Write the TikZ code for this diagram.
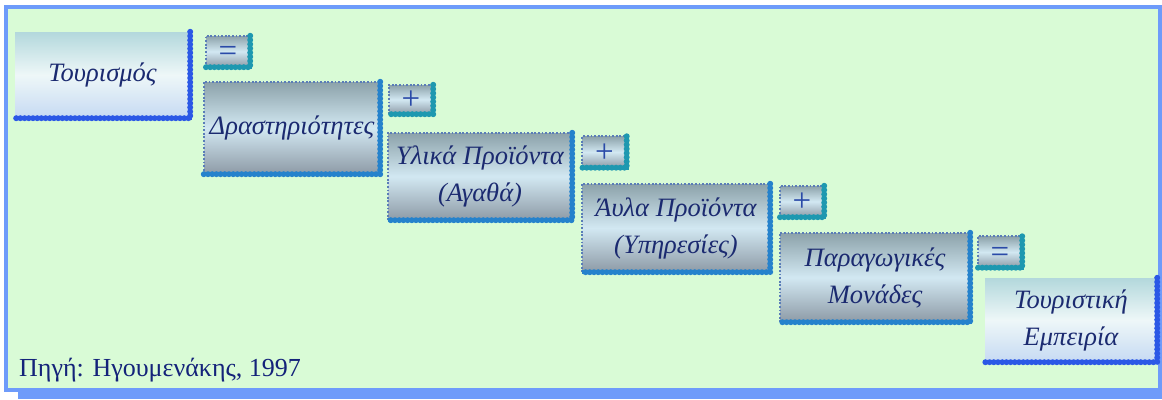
\documentclass[tikz,border=0pt]{standalone}
\usepackage{fontspec}
\setmainfont{Liberation Serif}
\begin{document}
\begin{tikzpicture}[x=1pt,y=-1pt,
  txt/.style={text=navytxt, font=\fontsize{26.5}{37}\selectfont\itshape, align=center, inner sep=0pt},
  endbox/.style={txt, minimum width=#1, top color=endtop, bottom color=endbot, middle color=endmid},
  midbox/.style={txt, minimum width=#1, top color=midtop, bottom color=midbot, middle color=midmid},
  opbox/.style={text=optxt, font=\fontsize{33}{33}\selectfont, inner sep=0pt, minimum width=44pt, minimum height=31pt, text height=20pt, text depth=0pt, top color=midtop, bottom color=midbot, middle color=midmid},
  bigedge/.style={draw=#1, line width=3.8pt, postaction={draw=#1, line width=6pt, dash pattern=on 0pt off 4.2pt, line cap=round}},
  thinedge/.style={draw=thinc, line width=1.8pt, dash pattern=on 1.8pt off 1.8pt}
]
\definecolor{navytxt}{HTML}{1B2A70}
\definecolor{optxt}{HTML}{2A4AA8}
\definecolor{framec}{HTML}{6E9BFA}
\definecolor{bgc}{HTML}{D9FBD6}
\definecolor{endtop}{HTML}{B3D8DC}
\definecolor{endmid}{HTML}{EEF7F8}
\definecolor{endbot}{HTML}{C6DAF3}
\definecolor{midtop}{HTML}{8CA2AA}
\definecolor{midmid}{HTML}{D2E8F2}
\definecolor{midbot}{HTML}{8D9AA6}
\definecolor{blueedge}{HTML}{2B58E6}
\definecolor{tealedge}{HTML}{2582CC}
\definecolor{opedge}{HTML}{1E98B0}
\definecolor{thinc}{HTML}{5A7DB8}
\definecolor{srcc}{HTML}{14237A}

\useasboundingbox (0,0) rectangle (1162,399);
% frame
\fill[bgc] (6,7) rectangle (1160,390);
\fill[framec] (18,389) rectangle (1162,399);
\draw[framec, line width=4pt] (6,7) rectangle (1160,390);

% boxes
\node[endbox=175pt, minimum height=86pt] (tour) at (102.5,75) {Τουρισμός};
\node[opbox] (eq1) at (228,51.5) {=};
\node[midbox=176pt, minimum height=92pt] (drast) at (292,128) {Δραστηριότητες};
\node[opbox, minimum height=29pt] (pl1) at (411,99.5) {+};
\node[midbox=184pt, minimum height=87pt] (ylika) at (480,176.5) {Υλικά Προϊόντα\\(Αγαθά)};
\node[opbox] (pl2) at (604.5,152) {+};
\node[midbox=188pt, minimum height=88pt] (ayla) at (676,228) {Άυλα Προϊόντα\\(Υπηρεσίες)};
\node[opbox] (pl3) at (802,201.5) {+};
\node[midbox=190pt, minimum height=89pt] (parag) at (875,277.5) {Παραγωγικές\\Μονάδες};
\node[opbox] (eq2) at (1000,252) {=};
\node[endbox=172pt, minimum height=84pt] (emp) at (1071,320) {Τουριστική\\Εμπειρία};

% edges
\foreach \n in {drast,ylika,ayla,parag} {
  \draw[thinedge] (\n.south west) -- (\n.north west) -- (\n.north east);
  \draw[bigedge=tealedge] (\n.north east) -- (\n.south east) -- (\n.south west);
}
\foreach \n in {eq1,pl1,pl2,pl3,eq2} {
  \draw[thinedge] (\n.south west) -- (\n.north west) -- (\n.north east);
  \draw[bigedge=opedge] (\n.north east) -- (\n.south east) -- (\n.south west);
}
\foreach \n in {tour,emp} {
  \draw[bigedge=blueedge] (\n.north east) -- (\n.south east) -- (\n.south west);
}

\node[anchor=base west, inner sep=0pt, text=srcc, font=\fontsize{26}{26}\selectfont] (src) at (19,376) {Πηγή: Ηγουμενάκης, 1997};
\end{tikzpicture}
\end{document}
